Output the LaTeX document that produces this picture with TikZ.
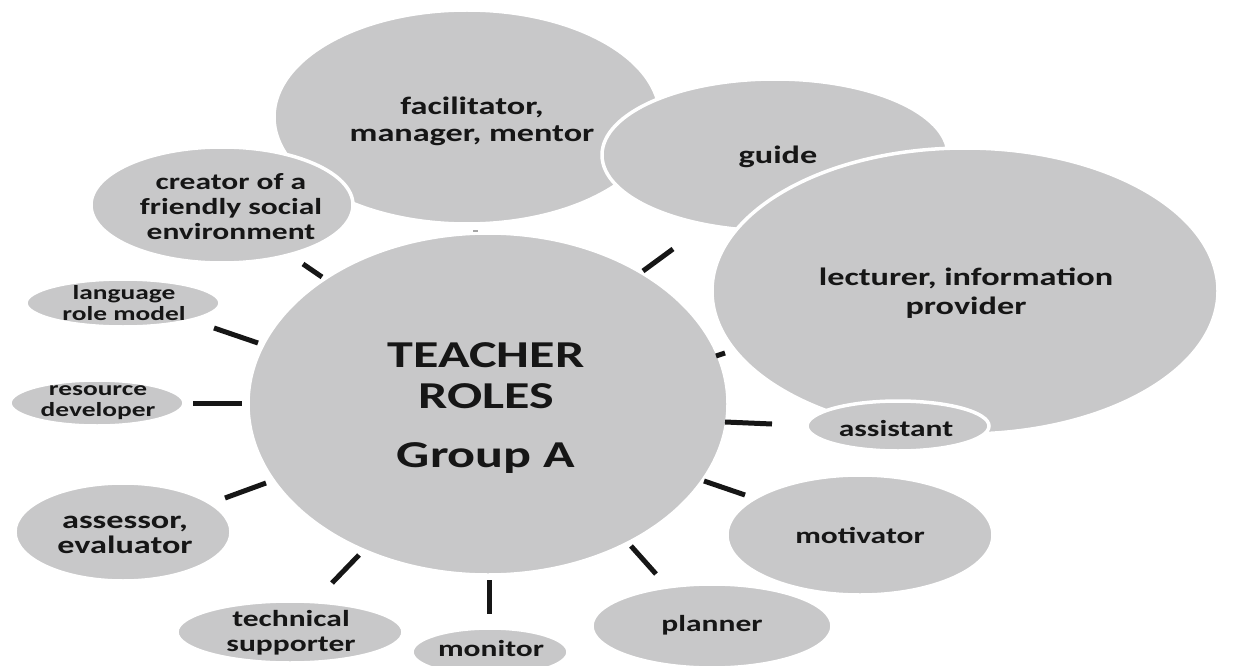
\documentclass[tikz,border=0pt]{standalone}
\usepackage{fontspec}
\usetikzlibrary{shapes.geometric}
\newfontfamily\bubblefont{Carlito}[FakeStretch=1.37]
\definecolor{bubblegray}{RGB}{200,200,201}
\definecolor{inkblack}{RGB}{22,22,22}
\begin{document}
\begin{tikzpicture}[x=1pt,y=-1pt,
  bubble/.style={ellipse, fill=bubblegray, draw=white, line width=3.5pt, inner sep=0pt},
  caption/.style 2 args={text=inkblack, align=center, inner sep=0pt,
    font=\bubblefont\bfseries\fontsize{#1}{#2}\selectfont},
  link/.style={line width=5pt, draw=inkblack}]
\useasboundingbox (0,0) rectangle (1234,666);
\fill[white] (0,0) rectangle (1234,666);

% bubbles, back to front
\node[bubble, minimum width=386pt, minimum height=214pt] (fac) at (467,117) {};
\node[bubble, minimum width=262pt, minimum height=116pt] (creator) at (222,205) {};
\node[bubble, minimum width=346pt, minimum height=152pt] (guide) at (775,155) {};
\node[bubble, minimum width=506pt, minimum height=286pt] (lect) at (965,291) {};
\node[bubble, minimum width=182pt, minimum height=50pt] (asst) at (898,426) {};
\node[bubble, minimum width=194pt, minimum height=48pt] (lang) at (123,303) {};
\node[bubble, minimum width=174pt, minimum height=46pt] (res) at (97,403) {};
\node[bubble, minimum width=216pt, minimum height=98pt] (assess) at (123,532) {};
\node[bubble, minimum width=226pt, minimum height=62pt] (tech) at (290,632) {};
\node[bubble, minimum width=156pt, minimum height=48pt] (mon) at (490,652) {};
\node[bubble, minimum width=240pt, minimum height=84pt] (plan) at (712,626) {};
\node[bubble, minimum width=266pt, minimum height=120pt] (motiv) at (860,535) {};
\node[bubble, minimum width=480pt, minimum height=342pt] (hub) at (488,404) {};

% texts
\node[caption={25}{27}] (facT) at (472,121) {facilitator,\\manager, mentor};
\node[caption={25}{27}] (guideT) at (778,157) {guide};
\node[caption={25}{29}] (lectT) at (966,293) {lecturer, information\\provider};
\node[caption={23}{25}] (creatorT) at (231,207) {creator of a\\friendly social\\environment};
\node[caption={20}{21}] (langT) at (124,303) {language\\role model};
\node[caption={20}{21}] (resT) at (98,403) {resource\\developer};
\node[caption={25}{25}] (assessT) at (125,535) {assessor,\\evaluator};
\node[caption={23}{25}] (techT) at (291,633) {technical\\supporter};
\node[caption={23}{25}] (monT) at (491,649) {monitor};
\node[caption={23}{26}] (planT) at (712,625) {planner};
\node[caption={23}{26}] (motivT) at (860,535) {motivator};
\node[caption={23}{25}] (asstT) at (896,429) {assistant};
\node[caption={38}{41}] (hubT) at (486,376) {TEACHER\\ROLES};
\node[caption={38}{41}] (hubG) at (486,458) {Group A};

% spokes between the hub and the bubbles
\coordinate (creatorA) at (303,264); \coordinate (creatorB) at (322,277);
\coordinate (langA) at (214,328);    \coordinate (langB) at (258,343);
\coordinate (resA) at (193,403);     \coordinate (resB) at (242,403);
\coordinate (assessA) at (225,498);  \coordinate (assessB) at (266,483);
\coordinate (techA) at (332,583);    \coordinate (techB) at (359,555);
\coordinate (monA) at (489,580);     \coordinate (monB) at (489,614);
\coordinate (planA) at (631,546);    \coordinate (planB) at (656,574);
\coordinate (motivA) at (704,481);   \coordinate (motivB) at (745,495);
\coordinate (asstA) at (725,422);    \coordinate (asstB) at (772,424);
\coordinate (lectA) at (716,356);    \coordinate (lectB) at (725,353);
\coordinate (guideA) at (643,271);   \coordinate (guideB) at (673,249);
\coordinate (facA) at (473,231);     \coordinate (facB) at (478,231);

\draw[link] (creatorA) -- (creatorB);
\draw[link] (langA) -- (langB);
\draw[link] (resA) -- (resB);
\draw[link] (assessA) -- (assessB);
\draw[link] (techA) -- (techB);
\draw[link] (monA) -- (monB);
\draw[link] (planA) -- (planB);
\draw[link] (motivA) -- (motivB);
\draw[link] (asstA) -- (asstB);
\draw[link] (lectA) -- (lectB);
\draw[link] (guideA) -- (guideB);
\draw[line width=2pt, draw=gray!70] (facA) -- (facB);
\end{tikzpicture}
\end{document}
